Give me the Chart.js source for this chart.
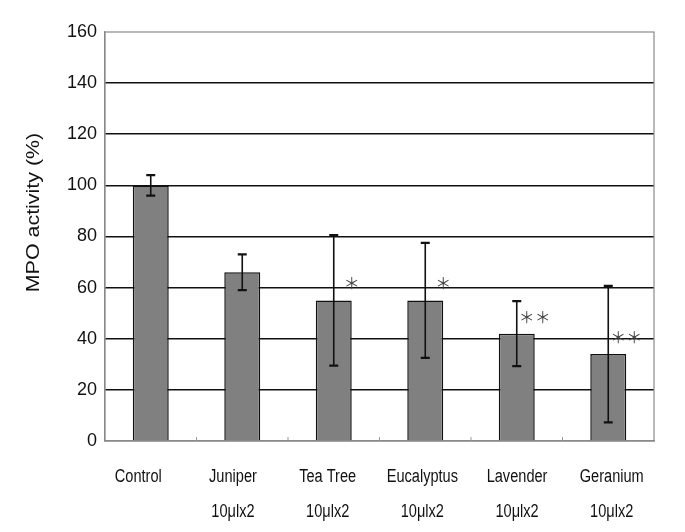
<!DOCTYPE html>
<html>
<head>
<meta charset="utf-8">
<script src="https://cdn.jsdelivr.net/npm/chart.js@4/dist/chart.umd.min.js"></script>
<style>
  html, body { margin: 0; padding: 0; background: #fff; }
  #wrap { width: 685px; height: 532px; }
</style>
</head>
<body>
<div id="wrap"><canvas id="chart" width="685" height="532"></canvas></div>
<script>
// data
const groups = [['Control'], ['Juniper', '10\u03bclx2'], ['Tea Tree', '10\u03bclx2'],
                ['Eucalyptus', '10\u03bclx2'], ['Lavender', '10\u03bclx2'], ['Geranium', '10\u03bclx2']];
const mpoActivity = [100, 66, 55, 55, 42, 34];
const mpoError = [4, 7, 25.5, 22.5, 12.7, 26.7];
const significance = ['', '', '*', '*', '**', '**'];
const yTicks = [0, 20, 40, 60, 80, 100, 120, 140, 160];
const yTitle = 'MPO activity (%)';

// error bars, frame, asterisks and the squeezed category labels
const extras = {
    id: 'extras',
    beforeDatasetsDraw(chart) {
        const a = chart.chartArea;
        const ctx = chart.ctx;
        ctx.save();
        ctx.strokeStyle = '#8a8a8a';
        ctx.lineWidth = 1.2;
        ctx.strokeRect(a.left, a.top, a.right - a.left, a.bottom - a.top);
        // small marks between categories
        const xs = chart.scales.x;
        ctx.strokeStyle = '#999';
        ctx.lineWidth = 1;
        for (let i = 1; i < groups.length; i++) {
            const px = (xs.getPixelForTick(i - 1) + xs.getPixelForTick(i)) / 2;
            ctx.beginPath();
            ctx.moveTo(px, a.bottom);
            ctx.lineTo(px, a.bottom - 4);
            ctx.stroke();
        }
        ctx.restore();
    },
    afterDatasetsDraw(chart) {
        const ctx = chart.ctx;
        const ys = chart.scales.y;
        const xs = chart.scales.x;
        const a = chart.chartArea;
        const meta = chart.getDatasetMeta(0);
        ctx.save();
        meta.data.forEach((bar, i) => {
            const hi = ys.getPixelForValue(mpoActivity[i] + mpoError[i]);
            const lo = ys.getPixelForValue(mpoActivity[i] - mpoError[i]);
            ctx.strokeStyle = '#111';
            ctx.lineWidth = 1.6;
            ctx.beginPath();
            ctx.moveTo(bar.x, hi);
            ctx.lineTo(bar.x, lo);
            ctx.stroke();
            ctx.lineWidth = 2.2;
            ctx.beginPath();
            ctx.moveTo(bar.x - 4.5, hi);
            ctx.lineTo(bar.x + 4.5, hi);
            ctx.moveTo(bar.x - 4.5, lo);
            ctx.lineTo(bar.x + 4.5, lo);
            ctx.stroke();
            if (significance[i]) {
                ctx.fillStyle = '#444';
                ctx.font = '16px "Noto Sans CJK KR"';
                ctx.textAlign = 'center';
                ctx.textBaseline = 'middle';
                const s = significance[i].replace(/\*/g, '\uff0a');
                ctx.fillText(s, bar.x + bar.width / 2, bar.y - 17);
            }
        });
        // category labels, narrow like the original (spread slightly wider than the bars)
        ctx.fillStyle = '#111';
        ctx.font = '18px "Liberation Sans", Arial, sans-serif';
        ctx.textAlign = 'center';
        ctx.textBaseline = 'middle';
        groups.forEach((lines, i) => {
            const cx = xs.getPixelForTick(i) - 12.5 + 3.2 * i;
            lines.forEach((t, k) => {
                ctx.save();
                ctx.translate(cx, a.bottom + 36 + k * 35);
                ctx.scale(0.81, 1);
                ctx.fillText(t, 0, 0);
                ctx.restore();
            });
        });
        // y axis title
        ctx.translate(34, a.top + (a.bottom - a.top) / 2 - 24);
        ctx.rotate(-Math.PI / 2);
        ctx.scale(1.19, 1);
        ctx.fillText(yTitle, 0, 0);
        ctx.restore();
    }
};

const data = {
    labels: groups,
    datasets: [{
        data: mpoActivity,
        backgroundColor: '#808080',
        borderColor: '#111',
        borderWidth: 1.5,
        barPercentage: 0.393,
        categoryPercentage: 1
    }]
};

const config = {
    type: 'bar',
    data: data,
    options: {
        responsive: false,
        animation: false,
        layout: { padding: { top: 32, right: 31, left: 0, bottom: 0 } },
        plugins: { legend: { display: false }, tooltip: { enabled: false } },
        scales: {
            x: {
                grid: { display: false },
                border: { display: true, color: '#8a8a8a', width: 1.5 },
                ticks: { display: false },
                afterFit(scale) { scale.height = 91; }
            },
            y: {
                min: 0,
                max: 160,
                afterBuildTicks(scale) { scale.ticks = yTicks.map(v => ({ value: v })); },
                grid: {
                    drawTicks: false,
                    color: ctx => (ctx.tick && (ctx.tick.value === 0 || ctx.tick.value === 160)) ? 'rgba(0,0,0,0)' : '#111',
                    lineWidth: 1.6
                },
                border: { display: true, color: '#8a8a8a', width: 1.2 },
                ticks: {
                    color: '#111',
                    padding: 8,
                    font: { family: '"Liberation Sans", Arial', size: 18 }
                },
                afterFit(scale) { scale.width = 105; }
            }
        }
    },
    plugins: [extras]
};

const chart = new Chart(document.getElementById('chart'), config);
</script>
</body>
</html>
